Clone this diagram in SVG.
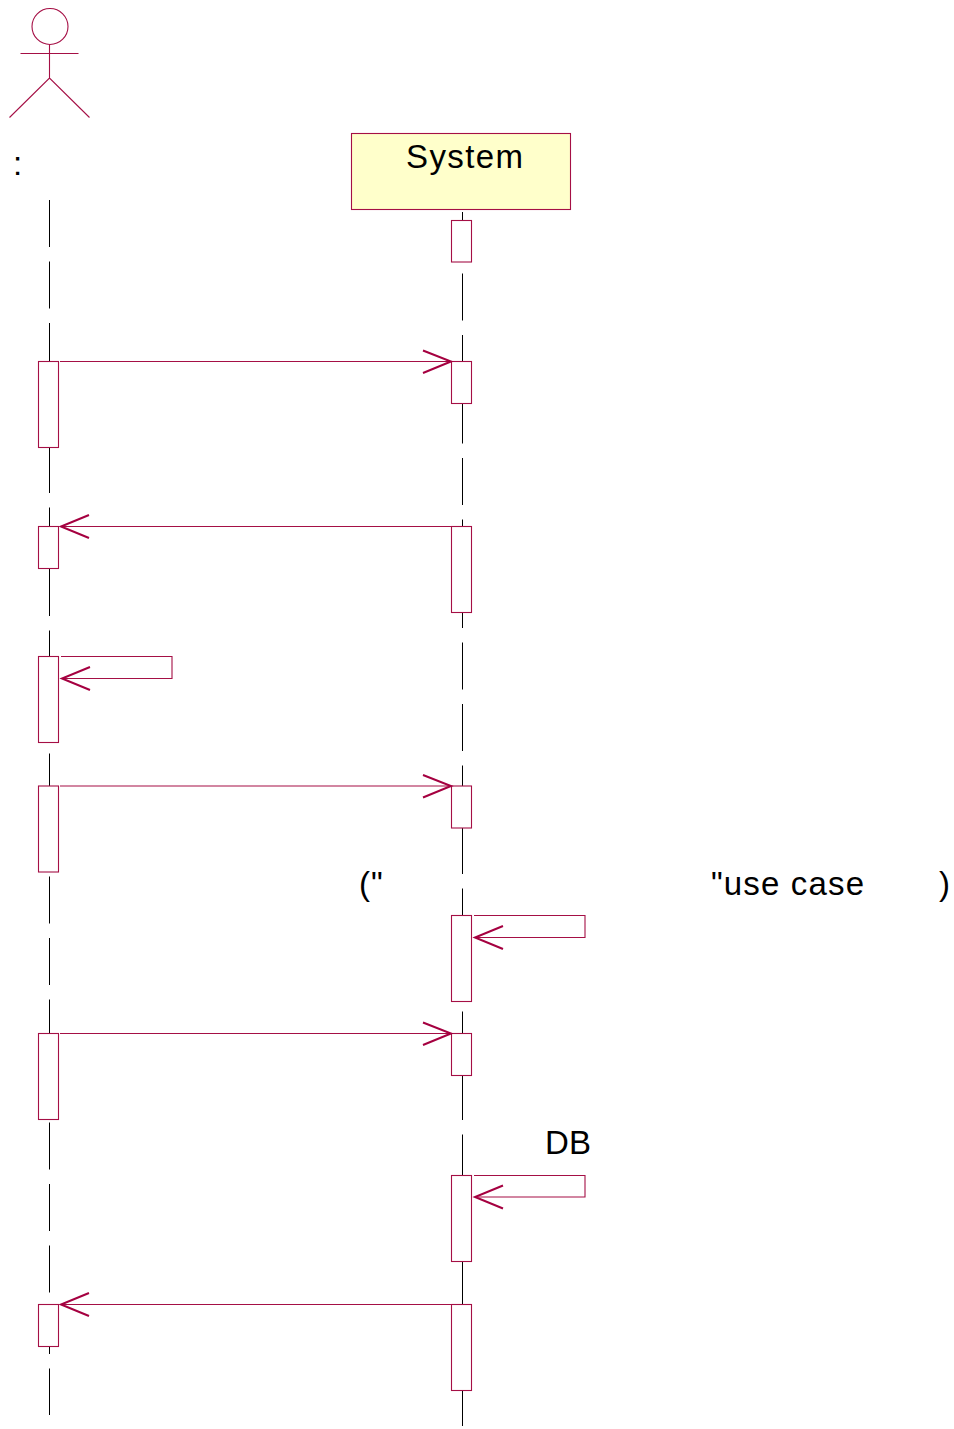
<svg xmlns="http://www.w3.org/2000/svg" width="954" height="1429" viewBox="0 0 954 1429">
<style>
.s{fill:none;stroke:#a50f45;stroke-width:1.1}
.a{fill:#fff;stroke:#a50f45;stroke-width:1.1}
.h{fill:none;stroke:#a50040;stroke-width:2}
.l{fill:none;stroke:#000;stroke-width:1;stroke-dasharray:47 14.5}
text{font-family:"Liberation Sans",Arial,sans-serif;font-size:33px;fill:#000}
</style>
<rect width="954" height="1429" fill="#fff"/>
<g id="lifelines">
<path class="l" d="M49.500 200V1415"/>
<path class="l" d="M462.500 212V1426"/>
</g>
<g id="actor">
<circle class="s" cx="50" cy="26.500" r="18"/>
<path class="s" d="M49.500 44.500V78M20.500 53.500H78.500M9.500 117.500L49.500 78L89.500 117.500"/>
<text x="13" y="175">:</text>
</g>
<g id="system">
<rect x="351.500" y="133.500" width="219" height="76" fill="#ffffcb" stroke="#a50f45" stroke-width="1.1"/>
<text x="406" y="168" textLength="117" lengthAdjust="spacing">System</text>
</g>
<g id="activations">
<rect class="a" x="451.500" y="220.500" width="20" height="41.500"/>
<rect class="a" x="38.500" y="361.500" width="20" height="86"/>
<rect class="a" x="451.500" y="361.500" width="20" height="42"/>
<rect class="a" x="38.500" y="526.500" width="20" height="42"/>
<rect class="a" x="451.500" y="526.500" width="20" height="86"/>
<rect class="a" x="38.500" y="656.500" width="20" height="86"/>
<rect class="a" x="38.500" y="786" width="20" height="86"/>
<rect class="a" x="451.500" y="786" width="20" height="42"/>
<rect class="a" x="451.500" y="915.500" width="20" height="86"/>
<rect class="a" x="38.500" y="1033.500" width="20" height="86"/>
<rect class="a" x="451.500" y="1033.500" width="20" height="42"/>
<rect class="a" x="451.500" y="1175.500" width="20" height="86"/>
<rect class="a" x="38.500" y="1304.500" width="20" height="42"/>
<rect class="a" x="451.500" y="1304.500" width="20" height="86"/>
</g>
<g id="connectors">
<path class="s" d="M60 361.500H451"/><path class="h" d="M423 350.500L451 361.500L423 373"/>
<path class="s" d="M451 526.500H61"/><path class="h" d="M89 515L61 526.500L89 538"/>
<path class="s" d="M61 656.500H172V678.500H62"/><path class="h" d="M90 667L62 678.500L90 690"/>
<path class="s" d="M60 786H451"/><path class="h" d="M423 775L451 786L423 797.500"/>
<path class="s" d="M474 915.500H585V937.500H475"/><path class="h" d="M503 926L475 937.500L503 949"/>
<path class="s" d="M60 1033.500H451"/><path class="h" d="M423 1022.500L451 1033.500L423 1045"/>
<path class="s" d="M474 1175.500H585V1197H475"/><path class="h" d="M503 1185.500L475 1197L503 1208.500"/>
<path class="s" d="M451 1304.500H61"/><path class="h" d="M89 1293L61 1304.500L89 1316"/>
</g>
<g id="labels">
<text x="359" y="895">(</text>
<text x="371" y="895">"</text>
<text x="711" y="895" textLength="153" lengthAdjust="spacing">"use case</text>
<text x="939" y="895">)</text>
<text x="545" y="1154" textLength="46" lengthAdjust="spacing">DB</text>
</g>
</svg>
